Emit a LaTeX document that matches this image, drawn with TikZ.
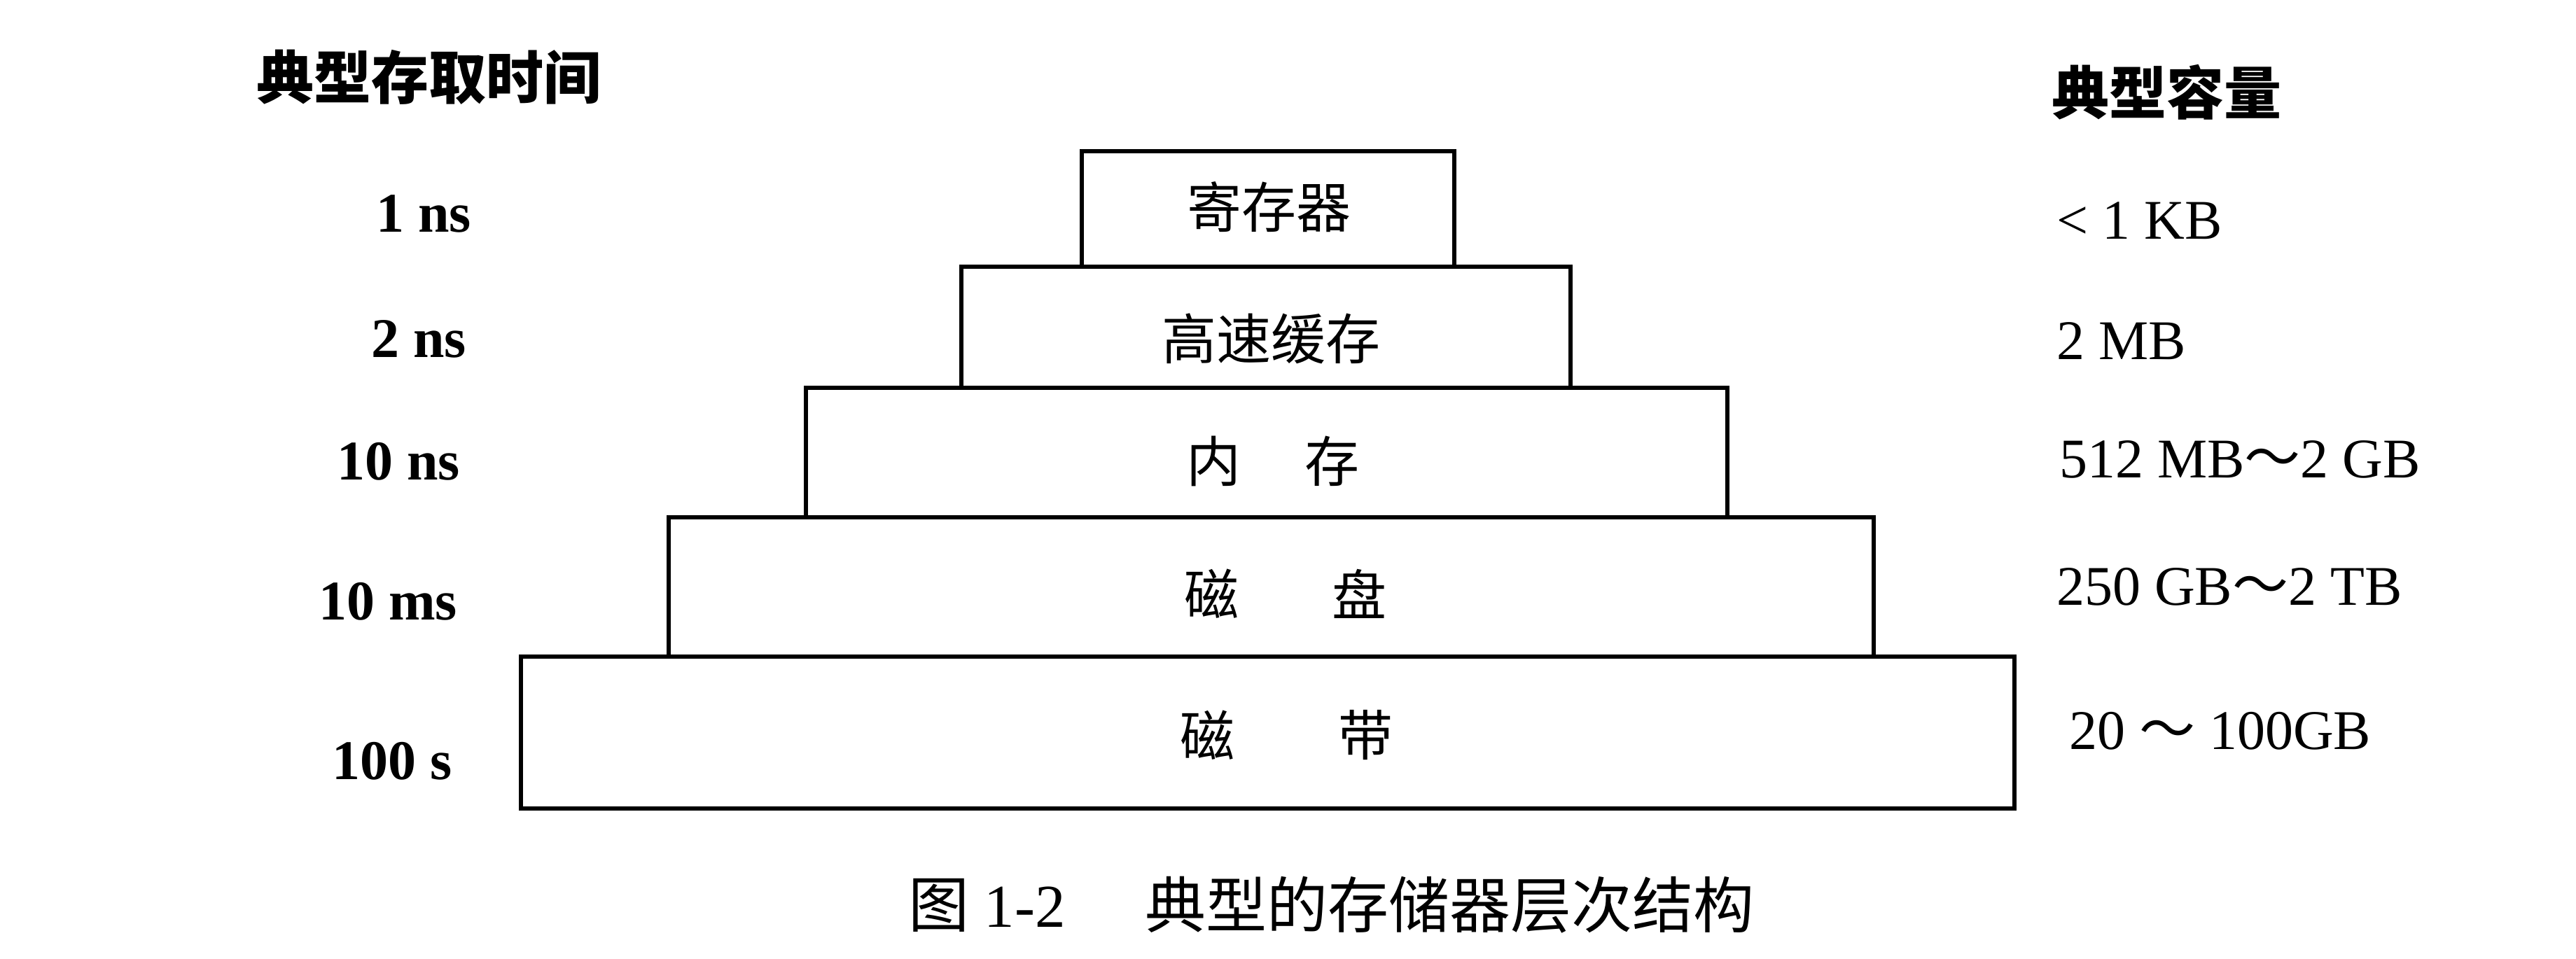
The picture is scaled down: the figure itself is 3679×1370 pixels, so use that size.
\documentclass[tikz,border=0pt]{standalone}
\usepackage{fontspec}
\setmainfont{Liberation Serif}
\newfontfamily\cjk{Noto Sans CJK SC}
\begin{document}
\begin{tikzpicture}[x=1pt,y=-1pt,
  lvl/.style={draw,line width=6.5pt,inner sep=0pt},
  boxtxt/.style={inner sep=0pt,anchor=center,font=\cjk\fontsize{78}{80}\selectfont},
  tlab/.style={inner sep=0pt,anchor=base east,font=\bfseries\fontsize{80}{90}\selectfont},
  clab/.style={inner sep=0pt,anchor=base west,font=\fontsize{80}{90}\selectfont},
  hdr/.style={inner sep=0pt,anchor=center,font=\cjk\bfseries\fontsize{82}{90}\selectfont},
  captxt/.style={inner sep=0pt,anchor=west,font=\fontsize{87}{90}\selectfont}]
\fill[white] (0,0) rectangle (3679,1370);
\useasboundingbox (0,0) rectangle (3679,1370);
% boxes
\node[lvl,minimum width=532,minimum height=165] (reg) at (1811,298.5) {};
\node[lvl,minimum width=870,minimum height=173] (cache) at (1808,467.5) {};
\node[lvl,minimum width=1316,minimum height=185] (mem) at (1809,646.5) {};
\node[lvl,minimum width=1721,minimum height=199] (disk) at (1815.5,838.5) {};
\node[lvl,minimum width=2133,minimum height=217] (tape) at (1810.5,1046.5) {};
% box labels
\node[boxtxt] (regt) at (1812,296) {寄存器};
\node[boxtxt] (cachet) at (1815,484) {高速缓存};
\node[boxtxt] (memt1) at (1733,659) {内};
\node[boxtxt] (memt2) at (1902,659) {存};
\node[boxtxt] (diskt1) at (1730,848) {磁};
\node[boxtxt] (diskt2) at (1941,848) {盘};
\node[boxtxt] (tapet1) at (1724,1050) {磁};
\node[boxtxt] (tapet2) at (1950,1050) {带};
% headers
\node[hdr] (hleft) at (612,110) {典型存取时间};
\node[hdr] (hright) at (3094,132) {典型容量};
% access times
\node[tlab] (t1) at (673,331) {1 ns};
\node[tlab] (t2) at (666,510) {2 ns};
\node[tlab] (t3) at (657,685) {10 ns};
\node[tlab] (t4) at (653,885) {10 ms};
\node[tlab] (t5) at (646,1113) {100 s};
% capacities
\node[clab] (c1) at (2937,341) {< 1 KB};
\node[clab] (c2) at (2937,513) {2 MB};
\node[clab] (c3) at (2941,682) {512 MB{\cjk ～}2 GB};
\node[clab] (c4) at (2937,864) {250 GB{\cjk ～}2 TB};
\node[clab] (c5) at (2955,1070) {20 {\cjk ～} 100GB};
% caption
\node[captxt] (capnum) at (1297,1293) {{\cjk 图} 1-2};
\node[captxt] (captitle) at (1635,1293) {\cjk 典型的存储器层次结构};
\end{tikzpicture}
\end{document}
